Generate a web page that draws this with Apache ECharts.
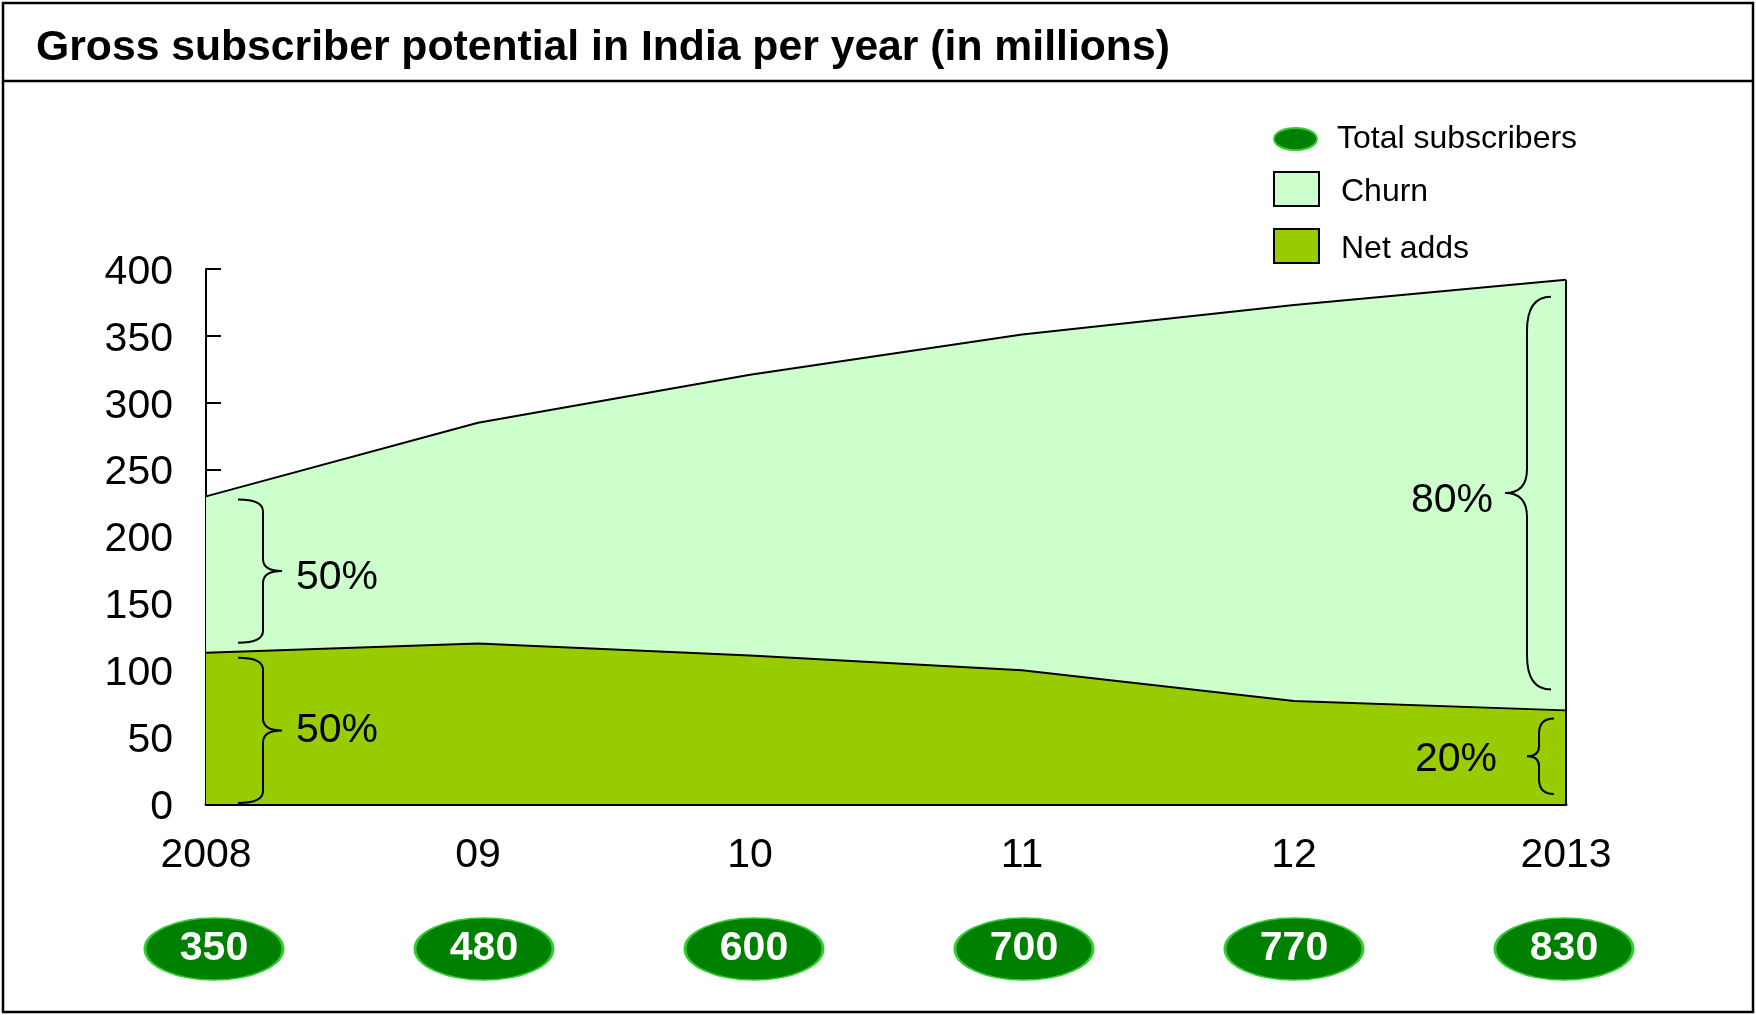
<!DOCTYPE html>
<html>
<head>
<meta charset="utf-8">
<title>Gross subscriber potential in India per year</title>
<script src="https://cdn.jsdelivr.net/npm/echarts@6/dist/echarts.min.js"></script>
<style>
  html, body { margin: 0; padding: 0; background: #ffffff; }
  #chart { width: 1756px; height: 1015px; }
</style>
</head>
<body>
<div id="chart"></div>
<script>
// ---- data (millions) ----
const categories = ['2008', '09', '10', '11', '12', '2013'];
const netAdds = [113, 120, 111, 100, 77, 70];
const churn = [117, 165, 210, 251, 296, 322];
const totalSubscribers = [350, 480, 600, 700, 770, 830];

// share annotations: category index, which layer, label
const braceCategory = [0, 0, 5, 5];
const braceLayer = ['churn', 'net', 'churn', 'net'];
const braceLabels = ['50%', '50%', '80%', '20%'];

// ---- styling ----
const FONT = '"Liberation Sans", Arial, Helvetica, sans-serif';
const CHURN_COLOR = '#ccffcc';
const NET_COLOR = '#99cc00';
const TOTAL_COLOR = '#008000';
const TOTAL_BORDER = '#33cc33';

// brace geometry in pixels: dir +1 = tip to the right, -1 = tip to the left
const braceGeom = [
  { dir: 1, end: 32, spine: 57, tip: 76, curl: 12, tipCurl: 12, insetTop: 3, insetBottom: 10, gap: 14, labelDy: 7 },
  { dir: 1, end: 32, spine: 57, tip: 76, curl: 12, tipCurl: 12, insetTop: 5, insetBottom: 1, gap: 14, labelDy: 0 },
  { dir: -1, end: 15, spine: 39, tip: 61, curl: 34, tipCurl: 24, insetTop: 17, insetBottom: 21, gap: 12, labelDy: 8 },
  { dir: -1, end: 12, spine: 27, tip: 39, curl: 15, tipCurl: 10, insetTop: 8, insetBottom: 10, gap: 30, labelDy: 3 }
];

const braceData = braceCategory.map(function (c, i) {
  const lo = braceLayer[i] === 'net' ? 0 : netAdds[c];
  const hi = braceLayer[i] === 'net' ? netAdds[c] : netAdds[c] + churn[c];
  return [c, lo, hi];
});

function bracePath(x, yTop, yBot, g) {
  const xe = x + g.dir * g.end;
  const xs = x + g.dir * g.spine;
  const xt = x + g.dir * g.tip;
  const ym = (yTop + yBot) / 2;
  return 'M' + xe + ',' + yTop +
    ' Q' + xs + ',' + yTop + ' ' + xs + ',' + (yTop + g.curl) +
    ' L' + xs + ',' + (ym - g.tipCurl) +
    ' Q' + xs + ',' + ym + ' ' + xt + ',' + ym +
    ' Q' + xs + ',' + ym + ' ' + xs + ',' + (ym + g.tipCurl) +
    ' L' + xs + ',' + (yBot - g.curl) +
    ' Q' + xs + ',' + yBot + ' ' + xe + ',' + yBot;
}

const ELLIPSE = 'path://M0,50 C0,22.4 22.4,0 50,0 C77.6,0 100,22.4 100,50 C100,77.6 77.6,100 50,100 C22.4,100 0,77.6 0,50 Z';
// legend swatch: 45x34 box sitting at the top of a 45x41 slot, so the label sits slightly low
const SWATCH = 'path://M0,0 L45,0 L45,34 L0,34 Z M0,41';

const chart = echarts.init(document.getElementById('chart'), null, { renderer: 'canvas' });

const legendText = function (padLeft) {
  return { fontFamily: FONT, fontSize: 32, color: '#000000', padding: [0, 0, 0, padLeft] };
};

const option = {
  backgroundColor: '#ffffff',
  animation: false,
  textStyle: { fontFamily: FONT },
  title: {
    text: 'Gross subscriber potential in India per year (in millions)',
    left: 31,
    top: 22,
    textStyle: { fontFamily: FONT, fontSize: 42.7, fontWeight: 'bold', color: '#000000' }
  },
  graphic: [
    {
      type: 'rect', silent: true, z: 100,
      shape: { x: 3, y: 3, width: 1750, height: 1009 },
      style: { fill: 'none', stroke: '#000000', lineWidth: 2.5 }
    },
    {
      type: 'line', silent: true, z: 100,
      shape: { x1: 3, y1: 81, x2: 1753, y2: 81 },
      style: { stroke: '#000000', lineWidth: 2.5 }
    }
  ],
  legend: [
    {
      data: [{ name: 'Total subscribers', icon: ELLIPSE,
        itemStyle: { color: TOTAL_COLOR, borderColor: TOTAL_BORDER, borderWidth: 2 } }],
      left: 1273, top: 123, padding: 0, itemWidth: 43, itemHeight: 22,
      symbolKeepAspect: false, selectedMode: false,
      textStyle: legendText(15)
    },
    {
      data: [{ name: 'Churn', icon: SWATCH,
        itemStyle: { color: CHURN_COLOR, borderColor: '#000000', borderWidth: 2 } }],
      left: 1273, top: 171, padding: 0, itemWidth: 45, itemHeight: 41,
      symbolKeepAspect: false, selectedMode: false,
      textStyle: legendText(17)
    },
    {
      data: [{ name: 'Net adds', icon: SWATCH,
        itemStyle: { color: NET_COLOR, borderColor: '#000000', borderWidth: 2 } }],
      left: 1273, top: 228, padding: 0, itemWidth: 45, itemHeight: 41,
      symbolKeepAspect: false, selectedMode: false,
      textStyle: legendText(17)
    }
  ],
  grid: [
    { left: 206, right: 190, top: 269, bottom: 211 },
    { left: 214, right: 192, top: 918, height: 62 }
  ],
  xAxis: [
    {
      type: 'category', gridIndex: 0, data: categories, boundaryGap: false,
      axisLine: { show: true, lineStyle: { color: '#000000', width: 3 } },
      axisTick: { show: true, inside: true, length: 7, lineStyle: { color: '#000000', width: 2 } },
      axisLabel: { fontFamily: FONT, fontSize: 41, color: '#000000', margin: 31 },
      splitLine: { show: false }
    },
    {
      type: 'category', gridIndex: 1, data: categories, boundaryGap: false, show: false
    }
  ],
  yAxis: [
    {
      type: 'value', gridIndex: 0, min: 0, max: 400, interval: 50,
      axisLine: { show: true, lineStyle: { color: '#000000', width: 2 } },
      axisTick: { show: true, inside: true, length: 15, lineStyle: { color: '#000000', width: 2 } },
      axisLabel: {
        fontFamily: FONT, fontSize: 41, color: '#000000', margin: 33,
        verticalAlign: 'top', lineHeight: 7
      },
      splitLine: { show: false }
    },
    {
      type: 'value', gridIndex: 1, min: 0, max: 1, show: false
    }
  ],
  series: [
    {
      name: 'Net adds', type: 'line', stack: 'gross', z: 4,
      xAxisIndex: 0, yAxisIndex: 0,
      data: netAdds, symbol: 'none',
      itemStyle: { color: NET_COLOR },
      lineStyle: { color: '#000000', width: 2 },
      areaStyle: { color: NET_COLOR, opacity: 1 }
    },
    {
      name: 'Churn', type: 'line', stack: 'gross', z: 3,
      xAxisIndex: 0, yAxisIndex: 0,
      data: churn, symbol: 'none',
      itemStyle: { color: CHURN_COLOR },
      lineStyle: { color: '#000000', width: 2 },
      areaStyle: { color: CHURN_COLOR, opacity: 1 },
      markLine: {
        silent: true, symbol: 'none', label: { show: false },
        lineStyle: { color: '#000000', width: 2, type: 'solid' },
        data: [[
          { coord: [categories.length - 1, 0] },
          { coord: [categories.length - 1, netAdds[netAdds.length - 1] + churn[churn.length - 1]] }
        ]]
      }
    },
    {
      name: 'Shares', type: 'custom', z: 6, clip: false, silent: true,
      xAxisIndex: 0, yAxisIndex: 0,
      data: braceData,
      renderItem: function (params, api) {
        const g = braceGeom[params.dataIndex];
        const top = api.coord([api.value(0), api.value(2)]);
        const bot = api.coord([api.value(0), api.value(1)]);
        const yTop = top[1] + g.insetTop;
        const yBot = bot[1] - g.insetBottom;
        const x = top[0];
        const ym = (yTop + yBot) / 2;
        const tipX = x + g.dir * g.tip;
        return {
          type: 'group',
          children: [
            {
              type: 'path',
              shape: { pathData: bracePath(x, yTop, yBot, g) },
              style: { fill: 'none', stroke: '#000000', lineWidth: 2 }
            },
            {
              type: 'text',
              style: {
                text: braceLabels[params.dataIndex],
                x: tipX + g.dir * g.gap,
                y: ym + g.labelDy,
                fill: '#000000',
                font: '41px ' + FONT,
                align: g.dir > 0 ? 'left' : 'right',
                verticalAlign: 'middle'
              }
            }
          ]
        };
      }
    },
    {
      name: 'Total subscribers', type: 'scatter',
      xAxisIndex: 1, yAxisIndex: 1,
      data: totalSubscribers.map(function (v, i) { return [i, 0.5, v]; }),
      symbol: ELLIPSE, symbolSize: [138, 62],
      itemStyle: { color: TOTAL_COLOR, borderColor: TOTAL_BORDER, borderWidth: 2, opacity: 1 },
      label: {
        show: true, position: 'inside',
        formatter: function (p) { return String(p.value[2]); },
        fontFamily: FONT, fontSize: 41, fontWeight: 'bold', color: '#ffffff'
      }
    }
  ]
};

chart.setOption(option);
</script>
</body>
</html>
